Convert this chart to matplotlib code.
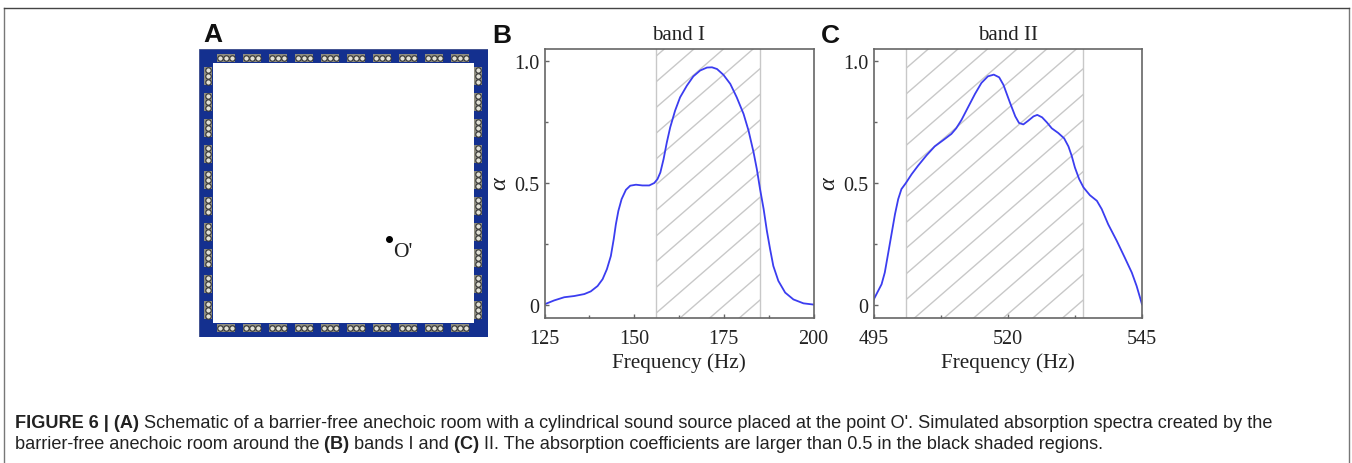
import matplotlib
matplotlib.use('Agg')
import matplotlib.pyplot as plt
import numpy as np
from matplotlib.patches import Rectangle

W, H = 1352, 464

# band I
freq_b = [125, 127.7, 130.5, 133.3, 136.1, 137.9, 139.8, 141.2, 142.4, 143.5, 144.3, 144.9, 145.6, 146.5, 147.7,
          148.9, 150.5, 152.3, 154.2, 155.6, 156.5, 157.3, 158.2, 159.1, 160.05, 161.4, 162.8, 164.7, 166.5,
          168.4, 170.3, 171.7, 173.1, 174.9, 176.8, 178.6, 180.5, 181.9, 183.3, 184.2, 185.1, 186.1, 187,
          187.9, 188.8, 190.2, 192.1, 194.4, 197.2, 200]
alpha_b = [.004, .02, .033, .038, .046, .057, .079, .107, .148, .202, .271, .332, .387, .435, .473,
           .49, .494, .491, .491, .501, .517, .544, .599, .667, .729, .797, .852, .90, .938,
           .962, .974, .975, .968, .944, .907, .852, .784, .715, .626, .558, .476, .394, .305,
           .230, .161, .100, .052, .024, .008, .003]
# band II
freq_c = [495, 495.7, 496.5, 497.1, 497.7, 498.35, 499, 499.6, 500.2, 501, 502.1, 503.3, 504.9, 506.4, 508,
          509.5, 510.4, 511.4, 512.6, 513.9, 515.1, 516.3, 517.4, 518.4, 519.2, 520.4, 521.4, 522.1, 522.9,
          523.8, 524.8, 525.5, 526.4, 527.3, 528.2, 529.4, 530.5, 531.3, 531.9, 532.5, 533.3, 534.1, 535.3,
          536.6, 537.5, 538.7, 540.3, 541.8, 543.1, 544, 545]
alpha_c = [.022, .052, .086, .134, .209, .291, .373, .435, .476, .50, .537, .572, .615, .651, .677,
           .702, .725, .76, .811, .866, .911, .938, .945, .934, .903, .831, .774, .747, .741,
           .756, .774, .78, .77, .749, .725, .706, .684, .651, .613, .565, .517, .483, .451,
           .428, .394, .332, .264, .195, .134, .079, .004]

band_b = (156, 185)
band_c = (501, 534)
xticks_b = [125, 150, 175, 200]
xticks_c = [495, 520, 545]
yticks = [0, 0.5, 1.0]
ylabels = ['0', '0.5', '1.0']
n_tiles = 10

SERIF = 'Liberation Serif'
SANS = 'Liberation Sans'
BLUE = '#3b3df0'
HATCH = '#c8c8c8'
SPINE = '#666666'
INK = '#222222'


def px_axes(fig, left, top, right, bottom):
    return fig.add_axes([left / W, 1 - bottom / H, (right - left) / W, (bottom - top) / H])


def panel_letter(fig, x, y, s):
    fig.text(x / W, 1 - y / H, s, family=SANS, weight='bold', fontsize=19, color='#111111',
             ha='center', va='center')


def draw_panel(fig, box, x, y, band, xticks, title, letter, letter_x, alpha_x):
    ax = px_axes(fig, *box)
    ax.set_xlim(xticks[0], xticks[-1])
    ax.set_ylim(-0.05, 1.05)
    ax.axvline(band[0], color=HATCH, lw=1.0)
    ax.axvline(band[1], color=HATCH, lw=1.0)
    # hatch lines, clipped to the band, anchored on its right edge
    clip = Rectangle((band[0], -0.05), band[1] - band[0], 1.1, transform=ax.transData, fill=False, ec='none')
    ax.add_patch(clip)
    wpx, hpx = box[2] - box[0], box[3] - box[1]
    slope = 0.868 * wpx / hpx
    xr = (band[1] - xticks[0]) / (xticks[-1] - xticks[0])
    for k in range(-6, 26):
        yr = 1 - (20 + k * 25.7) / hpx
        ln, = ax.plot([0, 1], [yr - slope * xr, yr + slope * (1 - xr)], transform=ax.transAxes,
                      color=HATCH, lw=1.0)
        ln.set_clip_path(clip)
    ax.plot(x, y, color=BLUE, lw=1.3)

    ax.set_xticks(xticks)
    ax.set_xticks((np.array(xticks[:-1]) + np.array(xticks[1:])) / 2, minor=True)
    ax.set_yticks(yticks)
    ax.set_yticks([0.25, 0.75], minor=True)
    ax.set_xticklabels([str(t) for t in xticks], family=SERIF, fontsize=14.5, color=INK)
    ax.set_yticklabels(ylabels, family=SERIF, fontsize=14.5, color=INK)
    ax.tick_params(which='major', direction='in', length=3, width=1, color=SPINE)
    ax.tick_params(axis='x', which='major', pad=8)
    ax.tick_params(axis='y', which='major', pad=3.5)
    ax.tick_params(which='minor', direction='in', length=2, width=1, color=SPINE)
    for s in ax.spines.values():
        s.set_color(SPINE)
        s.set_linewidth(1.2)
    ax.set_xlabel('Frequency (Hz)', family=SERIF, fontsize=15.3, color=INK, labelpad=3)
    fig.text((box[0] + box[2]) / 2 / W, 1 - 35 / H, title, family=SERIF, fontsize=15, color=INK,
             ha='center', va='center')
    panel_letter(fig, letter_x, 36, letter)
    fig.text(alpha_x / W, 1 - 184 / H, 'α', family=SERIF, style='italic', fontsize=17.5, rotation=90,
             color=INK, ha='center', va='center')


def draw_room(fig):
    ax = px_axes(fig, 199, 50, 487.5, 338)
    ax.set_xlim(0, 288.5)
    ax.set_ylim(288, 0)
    ax.axis('off')
    wall = 14
    ax.add_patch(Rectangle((0, 0), 288.5, 288, fc='#14308f', ec='#3a4a8a', lw=0.6))
    ax.add_patch(Rectangle((wall, wall), 288.5 - 2 * wall, 288 - 2 * wall, fc='white', ec='none'))
    centres = 27 + 26 * np.arange(n_tiles)
    for c in centres:
        for (cx, cy, w, h, dx, dy) in [(c, 9, 18, 8.5, 6, 0), (c, 279, 18, 8.5, 6, 0),
                                       (9, c, 8.5, 18, 0, 6), (279, c, 8.5, 18, 0, 6)]:
            ax.add_patch(Rectangle((cx - w / 2, cy - h / 2), w, h, fc='#8f8d80', ec='none'))
            for k in (-1, 0, 1):
                ax.plot(cx + k * dx, cy + k * dy, 'o', ms=3.9, mfc='#e2e1d6', mec='#333333', mew=0.8)
    ax.plot(190, 190, 'o', ms=4, color='black')
    ax.text(204, 203, "O'", family=SERIF, fontsize=15.5, color=INK, ha='center', va='center')
    panel_letter(fig, 213, 35, 'A')


def rich_line(fig, x, y, parts, size):
    # parts: (text, bold) laid one after another in pixels
    r = fig.canvas.get_renderer()
    for txt, bold in parts:
        t = fig.text(x / W, 1 - y / H, txt, family=SANS, fontsize=size, color=INK,
                     weight='bold' if bold else 'normal', ha='left', va='baseline')
        x = t.get_window_extent(r).x1


fig = plt.figure(figsize=(W / 100, H / 100), dpi=100)

# frame round the figure
fig.add_artist(plt.Line2D([3.5 / W, 3.5 / W], [0, 1 - 9 / H], color='#777777', lw=1.0))
fig.add_artist(plt.Line2D([1349 / W, 1349 / W], [0, 1 - 9 / H], color='#777777', lw=1.0))
fig.add_artist(plt.Line2D([3.5 / W, 1349 / W], [1 - 9 / H, 1 - 9 / H], color='#444444', lw=1.0))

draw_room(fig)
draw_panel(fig, (544.5, 50, 813.5, 318.5), freq_b, alpha_b, band_b, xticks_b, 'band I', 'B', 501.5, 500)
draw_panel(fig, (873.5, 50, 1142, 318.5), freq_c, alpha_c, band_c, xticks_c, 'band II', 'C', 830, 829)

rich_line(fig, 15, 428, [('FIGURE 6 | (A) ', True),
                         ("Schematic of a barrier-free anechoic room with a cylindrical sound source placed at the point O'. "
                          "Simulated absorption spectra created by the", False)], 13.1)
rich_line(fig, 15, 449, [('barrier-free anechoic room around the ', False), ('(B) ', True), ('bands I and ', False),
                         ('(C) ', True), ('II. The absorption coefficients are larger than 0.5 in the black shaded regions.', False)], 13.1)

fig.savefig('out.png', dpi=100)
